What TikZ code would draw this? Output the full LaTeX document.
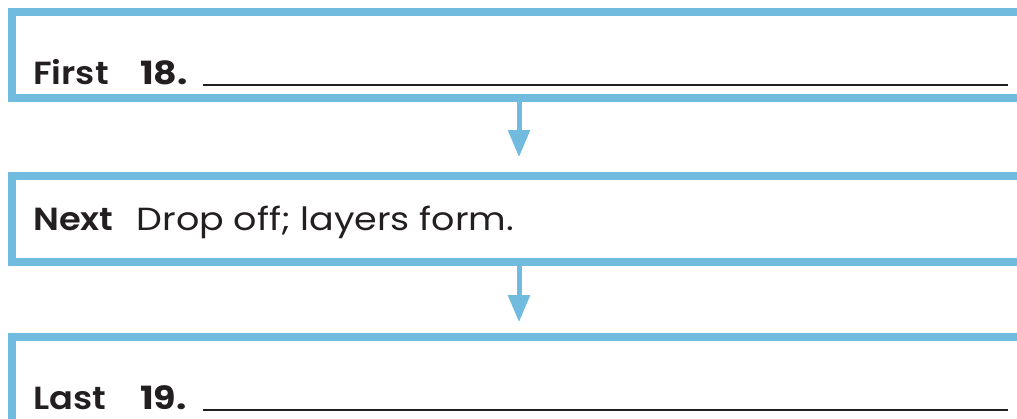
\documentclass[tikz,border=0pt]{standalone}
\usepackage{fontspec}
\setmainfont{Poppins}[FakeStretch=1.14]
\newfontfamily\medfont{Poppins SemiBold}[FakeStretch=1.1]
\usetikzlibrary{arrows.meta, positioning}
\definecolor{flowblue}{RGB}{112,187,222}
\definecolor{inkgray}{RGB}{35,31,32}
\tikzset{
    stagebox/.style={rectangle, draw=flowblue, line width=8.5pt, minimum width=1014pt, minimum height=86pt, inner sep=0pt},
    steplabel/.style={anchor=base west, inner sep=0pt, text=inkgray, font=\fontsize{32}{38}\selectfont},
    boldlabel/.style={steplabel, font=\fontsize{32}{38}\selectfont\bfseries},
    stagename/.style={steplabel, font=\fontsize{32}{38}\selectfont\medfont},
    blankline/.style={draw=inkgray, line width=1.6pt},
    flowarrow/.style={draw=flowblue, line width=5pt, -{Triangle[length=27pt, width=21pt]}}
}

\begin{document}
\begin{tikzpicture}[x=1pt, y=1pt]
\useasboundingbox (0,0) rectangle (1017,419);
\clip (0,0) rectangle (1017,419);
% the three stages
\node[stagebox] (first) at (519,364) {};
\node[stagebox] (next) at (519,200) {};
\node[stagebox] (last) at (519,39) {};
% arrows between stages
\coordinate[below=55pt of first] (tip1);
\coordinate[below=56pt of next] (tip2);
\draw[flowarrow] (first.south) -- (tip1);
\draw[flowarrow] (next.south) -- (tip2);
% labels
\node[stagename] (firstlbl) at (33,334) {First};
\node[boldlabel] (num18) at (140,334) {18.};
\node[stagename] (nextlbl) at (33,188) {Next};
\node[steplabel] (nexttext) at (136.5,188) {Drop off; layers form.};
\node[stagename] (lastlbl) at (33,9) {Last};
\node[boldlabel] (num19) at (140,9) {19.};
% answer lines
\coordinate (blank18a) at (203,334);
\coordinate (blank18b) at (1008,334);
\coordinate (blank19a) at (203,9);
\coordinate (blank19b) at (1008,9);
\draw[blankline] (blank18a) -- (blank18b);
\draw[blankline] (blank19a) -- (blank19b);
\end{tikzpicture}
\end{document}
